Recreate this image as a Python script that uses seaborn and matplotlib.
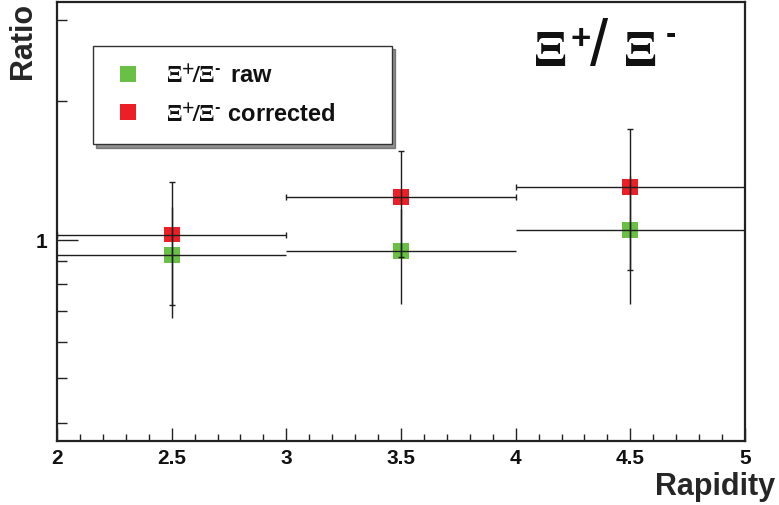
import numpy as np
import pandas as pd
import matplotlib
matplotlib.use("Agg")
import matplotlib.pyplot as plt
import seaborn as sns
from matplotlib.ticker import FixedLocator, MultipleLocator, FormatStrFormatter, NullFormatter

# ---- data ----
rapidity = [2.5, 3.5, 4.5]
rapidity_halfwidth = [0.5, 0.5, 0.5]
ratio_raw = [0.926, 0.947, 1.050]
ratio_raw_err = [0.25, 0.222, 0.325]
ratio_corrected = [1.027, 1.238, 1.302]
ratio_corrected_err = [0.306, 0.319, 0.44]
series_labels = [r"$\Xi^{+}\!/\Xi^{\mathbf{\text{-}}}\,$ raw", r"$\Xi^{+}\!/\Xi^{\mathbf{\text{-}}}$ corrected"]
x_ticks = [2, 2.5, 3, 3.5, 4, 4.5, 5]
y_major_ticks = [1]
y_minor_ticks = [0.4, 0.5, 0.6, 0.7, 0.8, 0.9, 2, 3]

green = "#6abf45"
red = "#ec1f26"

df = pd.DataFrame({
    "rapidity": rapidity + rapidity,
    "ratio": ratio_raw + ratio_corrected,
    "series": [series_labels[0]] * len(rapidity) + [series_labels[1]] * len(rapidity),
})

sns.set_style("ticks")
plt.rcParams["font.family"] = ["Liberation Sans", "DejaVu Sans"]
plt.rcParams["font.weight"] = "bold"
plt.rcParams["mathtext.fontset"] = "dejavusans"

fig = plt.figure(figsize=(7.79, 5.06), dpi=100)
ax = fig.add_axes([57 / 779, 1 - 442 / 506, 688 / 779, 439 / 506])

sns.scatterplot(data=df, x="rapidity", y="ratio", hue="series",
                palette=[green, red], marker="s", s=130, linewidth=0,
                ax=ax, zorder=2)

ax.errorbar(rapidity, ratio_raw, xerr=rapidity_halfwidth, yerr=ratio_raw_err,
            fmt="none", ecolor="#1e1e1e", elinewidth=1.0, capsize=0, zorder=3)
ax.errorbar(rapidity, ratio_corrected, xerr=rapidity_halfwidth, yerr=ratio_corrected_err,
            fmt="none", ecolor="#1e1e1e", elinewidth=1.0, capsize=2, capthick=1.0, zorder=3)

ax.set_yscale("log")
ax.set_xlim(2, 5)
ax.set_ylim(0.3656, 3.287)

ax.xaxis.set_major_locator(FixedLocator(x_ticks))
ax.xaxis.set_major_formatter(FormatStrFormatter("%g"))
ax.xaxis.set_minor_locator(MultipleLocator(0.1))
ax.yaxis.set_major_locator(FixedLocator(y_major_ticks))
ax.yaxis.set_major_formatter(FormatStrFormatter("%g"))
ax.yaxis.set_minor_locator(FixedLocator(y_minor_ticks))
ax.yaxis.set_minor_formatter(NullFormatter())

ax.tick_params(axis="both", which="both", direction="in", top=False, right=False,
               colors="#222222", labelsize=15, width=1.0)
ax.tick_params(axis="x", which="major", length=9.5, pad=5)
ax.tick_params(axis="x", which="minor", length=5)
ax.tick_params(axis="y", which="major", length=15, pad=7)
ax.tick_params(axis="y", which="minor", length=7)
for lab in ax.get_xticklabels() + ax.get_yticklabels():
    lab.set_fontweight("bold")
    lab.set_color("#111111")

for sp in ax.spines.values():
    sp.set_visible(True)
    sp.set_linewidth(1.6)
    sp.set_color("#222222")

ax.set_xlabel("Rapidity", fontsize=22, fontweight="bold", loc="right")
ax.xaxis.set_label_coords(1.0436, -0.068)
ax.set_ylabel("Ratio", fontsize=22, fontweight="bold", loc="top")
ax.yaxis.set_label_coords(-0.027, 1.0)

# title  Xi+ / Xi-
def fx(px):
    return px / 779.0
def fy(py):
    return 1 - py / 506.0
fig.text(fx(533), fy(66.5), r"$\mathrm{\Xi}$", fontsize=37, ha="left", va="baseline",
         math_fontfamily="stix", color="#111111")
fig.text(fx(580.5), fy(35.5), "+", fontsize=25, fontweight="bold", ha="center",
         va="center_baseline", color="#111111")
fig.text(fx(599.5), fy(48), "/", fontsize=47, fontweight="normal", ha="center",
         va="center", color="#111111")
fig.text(fx(623), fy(66.5), r"$\mathrm{\Xi}$", fontsize=37, ha="left", va="baseline",
         math_fontfamily="stix", color="#111111")
fig.text(fx(671), fy(31.7), "-", fontsize=22, fontweight="bold", ha="center",
         va="center_baseline", color="#111111")

handles, labels = ax.get_legend_handles_labels()
leg = ax.legend(handles, labels, loc="upper left",
                bbox_to_anchor=(0.0519, 0.9005, 0.4346, 0), mode="expand",
                borderaxespad=0, borderpad=0.78, handlelength=1.47, handletextpad=0.85,
                labelspacing=0.66, fontsize=17, frameon=True, fancybox=False,
                framealpha=1, edgecolor="#333333",
                shadow={"ox": 2.5, "oy": -2.5, "shade": 0.85})
leg.get_frame().set_linewidth(1.0)
for t in leg.get_texts():
    t.set_fontweight("bold")
    t.set_color("#111111")
    t.set_math_fontfamily("stix")

fig.savefig("out.png", dpi=100)
